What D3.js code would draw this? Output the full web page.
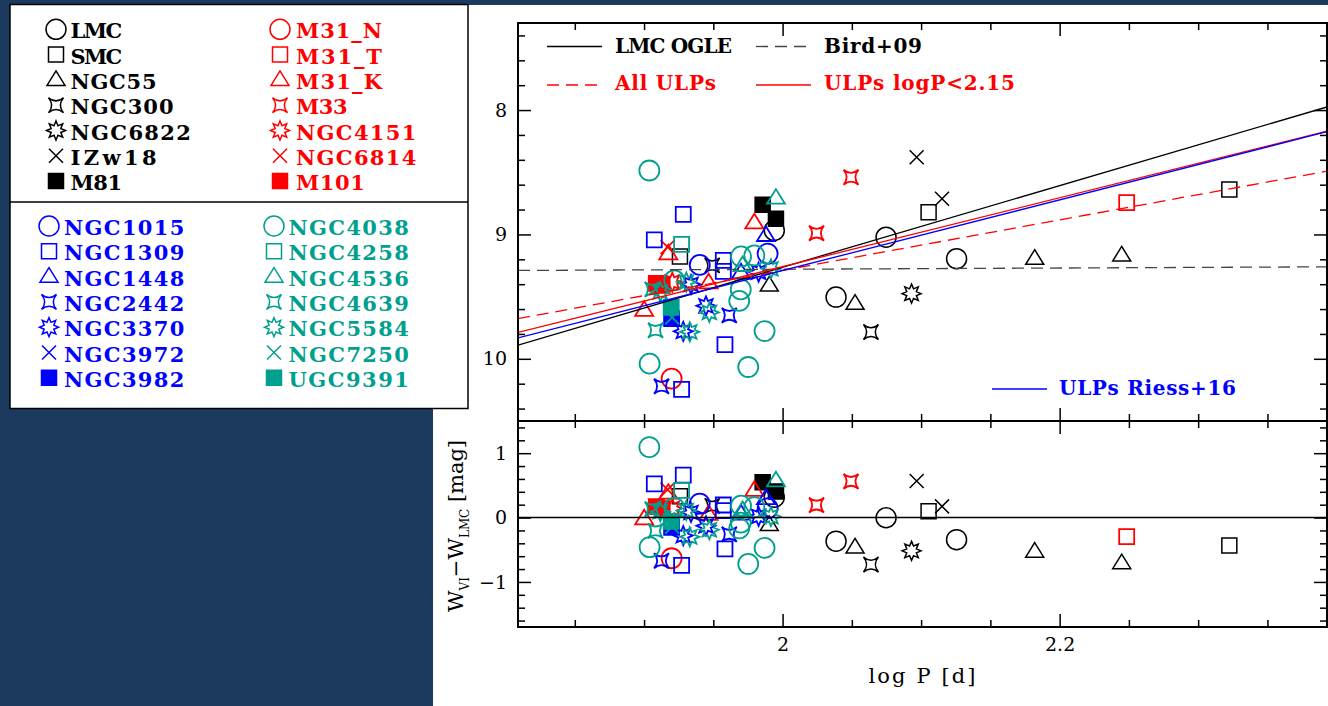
<!DOCTYPE html>
<html>
<head>
<meta charset="utf-8">
<script src="https://cdn.jsdelivr.net/npm/d3@7"></script>
<style>
html, body { margin: 0; padding: 0; background: #1b3a5e; }
svg { display: block; }
</style>
</head>
<body>
<div id="chart"></div>
<script>
// galaxies, in legend order (7 per colour group)
const galaxies = [
    'LMC', 'SMC', 'NGC55', 'NGC300', 'NGC6822', 'IZw18', 'M81',
    'M31_N', 'M31_T', 'M31_K', 'M33', 'NGC4151', 'NGC6814', 'M101',
    'NGC1015', 'NGC1309', 'NGC1448', 'NGC2442', 'NGC3370', 'NGC3972', 'NGC3982',
    'NGC4038', 'NGC4258', 'NGC4536', 'NGC4639', 'NGC5584', 'NGC7250', 'UGC9391'
];

// ULP cepheids: [galaxy, log P, W_VI]
const cepheids = [
    ['LMC', 1.994, 8.968], ['LMC', 2.0747, 9.022], ['LMC', 2.1256, 9.195], ['LMC', 2.0386, 9.504],
    ['SMC', 1.9259, 9.177], ['SMC', 2.1054, 8.821], ['SMC', 2.3225, 8.639],
    ['NGC55', 1.9904, 9.41], ['NGC55', 2.0523, 9.557], ['NGC55', 2.182, 9.195], ['NGC55', 2.2448, 9.169],
    ['NGC300', 1.9492, 9.249], ['NGC300', 2.0638, 9.785],
    ['NGC6822', 2.0931, 9.476],
    ['IZw18', 2.0968, 8.379], ['IZw18', 2.1151, 8.713],
    ['M81', 1.9856, 8.761], ['M81', 1.9952, 8.874],
    ['M31_N', 1.9199, 10.159],
    ['M31_T', 2.2484, 8.745],
    ['M31_K', 1.9001, 9.61], ['M31_K', 1.9175, 9.155], ['M31_K', 1.9466, 9.388], ['M31_K', 1.9796, 8.906],
    ['M33', 2.0245, 8.99], ['M33', 2.0494, 8.54],
    ['NGC4151', 1.9204, 9.383],
    ['NGC6814', 1.917, 9.102],
    ['M101', 1.9088, 9.394], ['M101', 1.9131, 9.41],
    ['NGC1015', 1.9402, 9.245], ['NGC1015', 1.9892, 9.155],
    ['NGC1309', 1.9074, 9.043], ['NGC1309', 1.9283, 8.839], ['NGC1309', 1.9572, 9.209],
    ['NGC1309', 1.9572, 9.297], ['NGC1309', 1.9584, 9.886], ['NGC1309', 1.9271, 10.245],
    ['NGC1448', 1.988, 9.008], ['NGC1448', 1.97, 9.308],
    ['NGC2442', 1.9615, 9.651], ['NGC2442', 1.9126, 10.221],
    ['NGC3370', 1.9447, 9.574], ['NGC3370', 1.9283, 9.779], ['NGC3370', 1.9827, 9.303], ['NGC3370', 1.9339, 9.402],
    ['NGC3972', 1.9203, 9.67],
    ['NGC3982', 1.9199, 9.677],
    ['NGC4038', 1.9038, 8.486], ['NGC4038', 1.9218, 9.369], ['NGC4038', 1.97, 9.177],
    ['NGC4038', 1.9796, 9.169], ['NGC4038', 1.9698, 9.442], ['NGC4038', 1.9687, 9.534],
    ['NGC4038', 1.987, 9.777], ['NGC4038', 1.904, 10.039], ['NGC4038', 1.9752, 10.066],
    ['NGC4258', 1.9271, 9.08],
    ['NGC4536', 1.9952, 8.708], ['NGC4536', 1.9711, 9.249],
    ['NGC4639', 1.9083, 9.771], ['NGC4639', 1.9059, 9.442],
    ['NGC5584', 1.9471, 9.627], ['NGC5584', 1.933, 9.783], ['NGC5584', 1.9305, 9.383],
    ['NGC5584', 1.9916, 9.276], ['NGC5584', 1.9117, 9.462],
    ['NGC7250', 1.9203, 9.667],
    ['UGC9391', 1.9196, 9.586]
];

// PL relations: W = zero point + slope * (log P - 2)
const fitNames = ['LMC OGLE', 'Bird+09', 'All ULPs', 'ULPs logP<2.15', 'ULPs Riess+16'];
const fitZeroPoint = [9.264, 9.28, 9.289, 9.259, 9.29];
const fitSlope = [-3.28, -0.05, -2.03, -2.77, -2.84];

// ticks
const xMajor = [2, 2.2];
const xMinor = [1.85, 1.9, 1.95, 2.05, 2.1, 2.15, 2.25, 2.3, 2.35];
const yTopMajor = [8, 9, 10];
const yTopMinor = [7.4, 7.6, 7.8, 8.2, 8.4, 8.6, 8.8, 9.2, 9.4, 9.6, 9.8, 10.2, 10.4];
const yBotMajor = [-1, 0, 1];
const yBotMinor = [-1.6, -1.4, -1.2, -0.8, -0.6, -0.4, -0.2, 0.2, 0.4, 0.6, 0.8, 1.2, 1.4];

// styles
const SHAPES = ['circle', 'square', 'triangle', 'star4', 'star8', 'cross', 'fsquare'];
const GROUP_COLORS = ['#000000', '#ff0000', '#0000ff', '#00a08e'];
const FIT_STYLE = [
    { color: '#000', dash: null, lx: 547, ly: 46.5, tx: 615, ty: 52.7, tw: 117 },
    { color: '#444', dash: '12,7', lx: 756, ly: 46.5, tx: 824, ty: 52.7, tw: 98 },
    { color: '#ff0000', dash: '12,7', lx: 547, ly: 85, tx: 615, ty: 90, tw: 101 },
    { color: '#ff0000', dash: null, lx: 756, ly: 85, tx: 824, ty: 90, tw: 191 },
    { color: '#0000ff', dash: null, lx: 992, ly: 389, tx: 1059, ty: 394.5, tw: 177 }
];

const FIGURE = { WIDTH: 1328, HEIGHT: 706 };
const PLOT = { LEFT: 518, RIGHT: 1327, TOP: 23, MID: 421, BOTTOM: 627 };
const SERIF = '"DejaVu Serif", serif';

const styleOf = name => {
    const i = galaxies.indexOf(name);
    return { shape: SHAPES[i % 7], color: GROUP_COLORS[Math.floor(i / 7)] };
};

function markerPath(shape) {
    const r = 10, s = 7.5, t = 9, c = 7;
    switch (shape) {
        case 'circle':
            return `M${r},0A${r},${r},0,1,1,${-r},0A${r},${r},0,1,1,${r},0Z`;
        case 'square':
        case 'fsquare':
            return `M${-s},${-s}H${s}V${s}H${-s}Z`;
        case 'triangle':
            return `M0,${-t}L${t},${t * 0.62}L${-t},${t * 0.62}Z`;
        case 'star4': {
            const h = 7.5, q = 1.2;
            return `M${-h},${-h}Q0,${-q} ${h},${-h}Q${q},0 ${h},${h}Q0,${q} ${-h},${h}Q${-q},0 ${-h},${-h}Z`;
        }
        case 'star8': {
            const pts = d3.range(16).map(k => {
                const a = -Math.PI / 2 + k * Math.PI / 8, rr = k % 2 ? 5.2 : 9.5;
                return [rr * Math.cos(a), rr * Math.sin(a)];
            });
            return 'M' + pts.map(p => p.join(',')).join('L') + 'Z';
        }
        case 'cross':
            return `M${-c},${-c}L${c},${c}M${-c},${c}L${c},${-c}`;
    }
}

// scales
const x = d3.scaleLinear().domain([1.809, 2.393]).range([PLOT.LEFT, PLOT.RIGHT]);
const yTop = d3.scaleLinear().domain([7.3, 10.5]).range([PLOT.TOP, PLOT.MID]);
const yBot = d3.scaleLinear().domain([1.5, -1.7]).range([PLOT.MID, PLOT.BOTTOM]);

const lmcW = p => fitZeroPoint[0] + fitSlope[0] * (p - 2);

const svg = d3.select('#chart').append('svg')
    .attr('width', FIGURE.WIDTH)
    .attr('height', FIGURE.HEIGHT);

svg.append('rect').attr('width', FIGURE.WIDTH).attr('height', FIGURE.HEIGHT).attr('fill', '#1b3a5e');
svg.append('rect').attr('x', 433).attr('y', 5)
    .attr('width', FIGURE.WIDTH - 433).attr('height', FIGURE.HEIGHT - 5).attr('fill', '#fff');

svg.append('clipPath').attr('id', 'clipTop')
    .append('rect').attr('x', PLOT.LEFT).attr('y', PLOT.TOP)
    .attr('width', PLOT.RIGHT - PLOT.LEFT).attr('height', PLOT.MID - PLOT.TOP);

// points, both panels
function drawPoints(g, yFn) {
    g.selectAll('path')
        .data(cepheids)
        .enter()
        .append('path')
            .attr('transform', d => `translate(${x(d[1])},${yFn(d)})`)
            .attr('d', d => markerPath(styleOf(d[0]).shape))
            .attr('fill', d => styleOf(d[0]).shape === 'fsquare' ? styleOf(d[0]).color : 'none')
            .attr('stroke', d => styleOf(d[0]).color)
            .attr('stroke-width', d => styleOf(d[0]).color === '#000000' ? 1.5 : 1.8);
}

drawPoints(svg.append('g').attr('clip-path', 'url(#clipTop)'), d => yTop(d[2]));
drawPoints(svg.append('g'), d => yBot(lmcW(d[1]) - d[2]));

// fit lines
const fitLine = svg.append('g').attr('clip-path', 'url(#clipTop)');
fitNames.forEach((name, i) => {
    const ends = x.domain();
    fitLine.append('path')
        .attr('d', d3.line().x(p => x(p)).y(p => yTop(fitZeroPoint[i] + fitSlope[i] * (p - 2)))(ends))
        .attr('fill', 'none')
        .attr('stroke', FIT_STYLE[i].color)
        .attr('stroke-width', 1.3)
        .attr('stroke-dasharray', FIT_STYLE[i].dash);
});

svg.append('line')
    .attr('x1', PLOT.LEFT).attr('x2', PLOT.RIGHT)
    .attr('y1', yBot(0)).attr('y2', yBot(0))
    .attr('stroke', '#000').attr('stroke-width', 1.5);

// fit legend
fitNames.forEach((name, i) => {
    const s = FIT_STYLE[i];
    svg.append('line')
        .attr('x1', s.lx).attr('x2', s.lx + 55).attr('y1', s.ly).attr('y2', s.ly)
        .attr('stroke', s.color).attr('stroke-width', 1.3)
        .attr('stroke-dasharray', s.dash);
    svg.append('text')
        .attr('x', s.tx).attr('y', s.ty)
        .attr('textLength', s.tw).attr('lengthAdjust', 'spacing')
        .attr('font-family', SERIF).attr('font-weight', 'bold').attr('font-size', 20)
        .attr('fill', s.color === '#444' ? '#000' : s.color)
        .text(name);
});

// axes
function ticks(axis, scale, values, size, pos, labels) {
    const g = svg.append('g')
        .attr('transform', pos)
        .call(axis(scale).tickValues(values).tickSize(-size).tickPadding(11)
            .tickFormat(labels ? d3.format('~g') : ''));
    g.select('.domain').remove();
    g.selectAll('line').attr('stroke', '#000').attr('stroke-width', 1.5);
    g.selectAll('text').attr('font-family', SERIF).attr('font-size', 19).attr('fill', '#000');
    return g;
}

[[PLOT.TOP, yTop, yTopMajor, yTopMinor, PLOT.MID], [PLOT.MID, yBot, yBotMajor, yBotMinor, PLOT.BOTTOM]]
    .forEach(([top, yS, major, minor, bottom], k) => {
        ticks(d3.axisTop, x, xMajor, 13, `translate(0,${top})`, false);
        ticks(d3.axisTop, x, xMinor, 7, `translate(0,${top})`, false);
        ticks(d3.axisBottom, x, xMajor, 13, `translate(0,${bottom})`, k === 1);
        ticks(d3.axisBottom, x, xMinor, 7, `translate(0,${bottom})`, false);
        ticks(d3.axisLeft, yS, major, 13, `translate(${PLOT.LEFT},0)`, true);
        ticks(d3.axisLeft, yS, minor, 7, `translate(${PLOT.LEFT},0)`, false);
        ticks(d3.axisRight, yS, major, 13, `translate(${PLOT.RIGHT},0)`, false);
        ticks(d3.axisRight, yS, minor, 7, `translate(${PLOT.RIGHT},0)`, false);
    });

svg.append('rect')
    .attr('x', PLOT.LEFT).attr('y', PLOT.TOP)
    .attr('width', PLOT.RIGHT - PLOT.LEFT).attr('height', PLOT.BOTTOM - PLOT.TOP)
    .attr('fill', 'none').attr('stroke', '#000').attr('stroke-width', 2);
svg.append('line')
    .attr('x1', PLOT.LEFT).attr('x2', PLOT.RIGHT).attr('y1', PLOT.MID).attr('y2', PLOT.MID)
    .attr('stroke', '#000').attr('stroke-width', 2);

svg.append('text')
    .attr('x', 922).attr('y', 683)
    .attr('text-anchor', 'middle')
    .attr('textLength', 107).attr('lengthAdjust', 'spacing')
    .attr('font-family', SERIF).attr('font-size', 21)
    .text('log P [d]');

const yLabel = svg.append('text')
    .attr('transform', `translate(463,${(PLOT.MID + PLOT.BOTTOM) / 2 + 2}) rotate(-90)`)
    .attr('text-anchor', 'middle')
    .attr('textLength', 172).attr('lengthAdjust', 'spacing')
    .attr('font-family', SERIF).attr('font-size', 21);
yLabel.append('tspan').text('W');
yLabel.append('tspan').attr('dy', 6).attr('font-size', 12).text('VI');
yLabel.append('tspan').attr('dy', -6).text('\u2212W');
yLabel.append('tspan').attr('dy', 6).attr('font-size', 12).text('LMC');
yLabel.append('tspan').attr('dy', -6).text(' [mag]');

// galaxy legend box
svg.append('rect')
    .attr('x', 10).attr('y', 4.5).attr('width', 458).attr('height', 404)
    .attr('fill', '#fff').attr('stroke', '#000').attr('stroke-width', 1.5);
svg.append('line')
    .attr('x1', 10).attr('x2', 468).attr('y1', 202).attr('y2', 202)
    .attr('stroke', '#000').attr('stroke-width', 1.5);

galaxies.forEach((name, i) => {
    const group = i < 14 ? 0 : 1;
    const j = i - group * 14;
    const col = j < 7 ? 0 : 1;
    const row = j % 7;
    const baseline = (group === 0 ? 38.3 : 235) + row * 25.3;
    const sx = group === 0 ? [56, 280][col] : [49, 274][col];
    const tx = group === 0 ? [70.5, 296][col] : [64, 288.5][col];
    const st = styleOf(name);
    svg.append('path')
        .attr('transform', `translate(${sx},${baseline - 9})`)
        .attr('d', markerPath(st.shape))
        .attr('fill', st.shape === 'fsquare' ? st.color : 'none')
        .attr('stroke', st.color)
        .attr('stroke-width', 1.5);
    svg.append('text')
        .attr('x', tx).attr('y', baseline)
        .attr('textLength', name.length * 17.2).attr('lengthAdjust', 'spacing')
        .attr('font-family', SERIF).attr('font-weight', 'bold').attr('font-size', 21)
        .attr('fill', st.color)
        .text(name);
});
</script>
</body>
</html>
